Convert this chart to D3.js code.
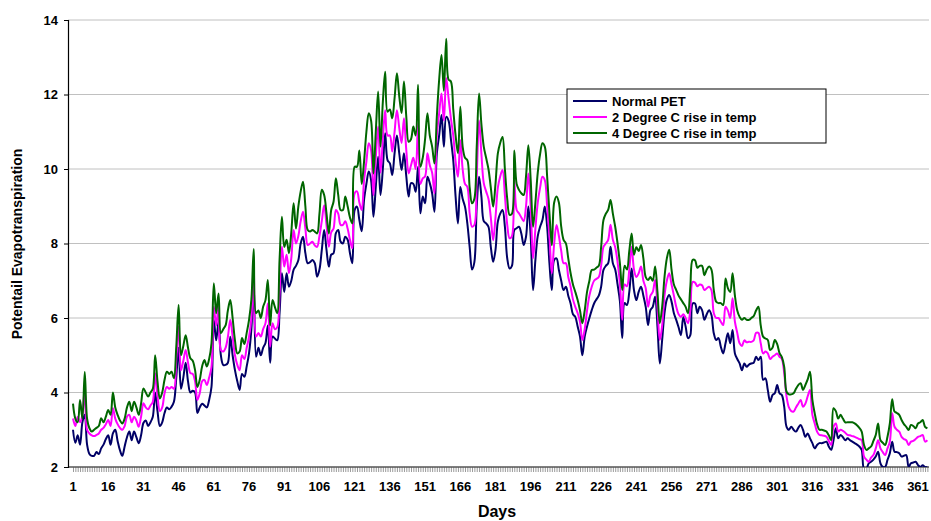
<!DOCTYPE html>
<html>
<head>
<meta charset="utf-8">
<script src="https://cdnjs.cloudflare.com/ajax/libs/d3/7.8.5/d3.min.js"></script>
<style>
  body { margin: 0; background: #fff; }
  svg text { font-family: Arial, "Liberation Sans", sans-serif; font-weight: bold; }
</style>
</head>
<body>
<svg id="chart" width="931" height="521"></svg>
<script>
// daily potential evapotranspiration
let normalPET = [
  3.0, 2.65, 2.85, 2.6, 3.2, 3.4, 2.6, 2.35, 2.3, 2.3,
  2.4, 2.35, 2.5, 2.6, 2.75, 2.85, 2.6, 2.9, 3.0, 2.7,
  2.45, 2.3, 2.55, 2.8, 2.95, 2.72, 2.95, 2.8, 2.64, 2.85,
  3.18, 3.25, 3.1, 3.2, 3.35, 4.0, 3.5, 3.1, 3.2, 3.45,
  3.6, 3.55, 3.62, 3.75, 4.4, 5.2, 4.1, 4.4, 4.8, 4.3,
  4.0, 4.05, 4.0, 3.45, 3.6, 3.7, 3.65, 3.6, 3.8, 4.15,
  5.95, 5.4, 5.9, 5.0, 4.74, 4.74, 4.8, 5.5, 5.0, 4.6,
  4.3, 4.07, 4.5, 4.42, 4.7, 5.06, 5.7, 6.9, 4.96, 5.2,
  5.0, 5.2, 5.33, 5.8, 4.8, 5.5, 5.45, 5.4, 6.13, 7.2,
  6.7, 7.2, 6.84, 7.0, 7.3, 7.4, 7.55, 8.0, 8.18, 7.74,
  7.47, 7.5, 7.56, 7.47, 7.11, 7.3, 7.83, 8.36, 7.83, 7.38,
  7.7, 7.74, 8.28, 8.36, 8.05, 8.0, 8.18, 8.1, 7.74, 7.47,
  8.9, 8.99, 8.63, 8.33, 9.17, 9.6, 9.93, 9.7, 8.72, 9.52,
  10.33, 9.3, 10.0, 10.96, 10.24, 10.15, 9.84, 10.42, 10.9, 10.42,
  9.97, 10.42, 9.8, 9.26, 9.62, 9.6, 9.39, 10.06, 8.81, 9.26,
  9.08, 9.79, 9.62, 9.35, 8.85, 10.42, 10.9, 11.45, 10.6, 11.4,
  11.3, 10.8, 10.24, 9.26, 8.54, 9.52, 9.2, 8.99, 8.54, 7.9,
  7.3, 7.5, 8.99, 9.79, 9.26, 8.6, 8.54, 8.45, 7.91, 7.51,
  7.83, 8.59, 8.8, 8.9, 8.45, 7.6, 7.33, 7.4, 8.36, 8.41,
  8.45, 8.27, 7.96, 8.18, 8.99, 8.18, 6.75, 7.56, 8.2, 8.45,
  8.63, 8.99, 8.45, 7.45, 6.75, 7.56, 7.6, 7.29, 7.0, 6.75,
  6.84, 6.6, 6.39, 6.1, 6.03, 5.77, 5.5, 5.0, 5.5, 5.77,
  6.0, 6.21, 6.39, 6.5, 6.6, 6.84, 7.29, 7.4, 7.47, 7.91,
  7.47, 7.3, 6.9, 6.45, 5.46, 6.4, 6.35, 6.7, 7.33, 6.75,
  6.48, 6.7, 6.84, 6.6, 6.3, 5.81, 6.21, 6.3, 6.57, 5.77,
  4.78, 5.41, 6.13, 6.5, 6.62, 6.44, 6.13, 5.95, 5.75, 5.54,
  6.03, 5.77, 5.46, 5.54, 6.39, 6.39, 6.13, 6.3, 6.21, 5.95,
  6.1, 6.21, 6.08, 5.59, 5.41, 5.46, 5.23, 5.05, 5.32, 5.59,
  5.32, 5.68, 5.05, 4.9, 4.78, 4.6, 4.78, 4.69, 4.75, 4.78,
  4.8, 4.96, 4.87, 4.96, 4.34, 4.38, 4.07, 3.75, 3.93, 3.98,
  4.2, 3.98, 3.93, 3.62, 3.08, 3.0, 3.08, 3.0, 2.95, 3.05,
  3.13, 3.0, 2.81, 2.9, 2.77, 2.64, 2.5, 2.59, 2.64, 2.64,
  2.66, 2.68, 2.55, 2.46, 2.72, 3.04, 2.77, 2.86, 2.8, 2.72,
  2.77, 2.72, 2.68, 2.64, 2.6, 2.55, 2.46, 1.95, 1.95, 2.1,
  2.14, 2.2, 2.28, 2.41, 2.1, 2.0, 2.0, 2.19, 2.37, 2.68,
  2.41, 2.4, 2.37, 2.28, 2.3, 2.32, 2.0, 2.1, 2.12, 2.14,
  2.05, 2.0, 2.05, 2.0, 2.0
];

let rise2C = [
  3.3, 3.1, 3.35, 3.2, 3.4, 4.1, 3.0, 2.9, 2.85, 2.83,
  2.86, 2.9, 3.0, 3.05, 3.15, 3.26, 3.1, 3.58, 3.3, 3.15,
  3.05, 3.0, 3.1, 3.35, 3.4, 3.2, 3.35, 3.25, 3.08, 3.35,
  3.71, 3.6, 3.55, 3.65, 3.75, 4.52, 3.9, 3.5, 3.6, 3.98,
  4.15, 4.1, 4.15, 4.1, 4.9, 5.77, 4.6, 4.85, 5.14, 4.8,
  4.52, 4.5, 4.3, 3.8, 3.98, 4.3, 4.34, 4.2, 4.4, 4.69,
  6.3, 5.8, 6.3, 5.14, 5.1, 5.2, 5.5, 5.95, 5.5, 5.0,
  4.74, 4.6, 5.0, 4.9, 5.2, 5.5, 6.0, 7.47, 5.5, 5.6,
  5.5, 5.7, 5.86, 6.39, 5.23, 5.86, 5.7, 5.75, 6.66, 7.91,
  7.38, 7.7, 7.2, 7.6, 8.36, 8.0, 8.2, 8.6, 8.85, 8.4,
  7.96, 8.0, 8.05, 7.95, 7.91, 8.2, 8.6, 9.03, 8.5, 7.91,
  8.3, 8.4, 8.9, 8.8, 8.5, 8.5, 8.6, 8.4, 8.1, 7.87,
  9.35, 9.4, 9.1, 8.9, 9.7, 10.2, 10.69, 10.5, 9.3, 10.3,
  11.14, 9.9, 10.8, 11.58, 10.9, 10.9, 10.47, 11.0, 11.58, 11.1,
  10.7, 11.36, 10.5, 9.88, 10.1, 10.3, 10.0, 11.23, 9.6, 9.75,
  9.8, 10.42, 10.1, 9.9, 9.35, 10.9, 11.5, 12.03, 11.3, 12.44,
  11.9, 11.36, 10.9, 10.2, 9.79, 10.78, 10.0, 9.6, 9.52, 8.8,
  8.45, 8.5, 9.79, 11.3, 10.4, 9.62, 9.4, 9.2, 8.7, 8.09,
  8.7, 9.5, 9.8, 9.97, 9.3, 8.5, 8.14, 8.2, 9.7, 8.9,
  8.81, 8.7, 8.6, 9.0, 9.88, 9.0, 7.6, 8.4, 9.1, 9.5,
  9.79, 9.7, 9.0, 8.18, 7.2, 8.0, 8.5, 8.2, 7.8, 7.47,
  7.47, 7.1, 6.84, 6.5, 6.3, 6.13, 5.9, 5.41, 5.7, 6.2,
  6.6, 6.84, 7.0, 7.05, 7.1, 7.4, 7.91, 8.0, 8.1, 8.5,
  8.1, 7.9, 7.5, 6.93, 5.95, 6.9, 6.85, 7.3, 7.91, 7.3,
  7.1, 7.2, 7.38, 7.0, 6.8, 6.3, 6.6, 6.7, 7.02, 6.3,
  5.41, 5.8, 6.6, 7.0, 7.2, 6.9, 6.6, 6.3, 6.1, 6.03,
  6.1, 6.0, 5.86, 6.21, 6.97, 6.95, 6.85, 6.9, 6.88, 6.75,
  6.8, 6.84, 6.75, 6.13, 6.0, 6.0, 5.9, 5.81, 6.3, 6.2,
  6.0, 6.53, 5.9, 5.6, 5.32, 5.25, 5.4, 5.35, 5.36, 5.36,
  5.4, 5.6, 5.6, 5.32, 5.05, 5.1, 5.05, 4.9, 4.96, 5.0,
  5.05, 4.96, 4.9, 4.52, 3.89, 3.6, 3.5, 3.49, 3.6, 3.7,
  3.8, 3.62, 3.7, 3.9, 4.07, 3.4, 3.17, 2.95, 2.86, 2.85,
  2.84, 2.81, 2.7, 2.59, 3.08, 3.17, 2.95, 3.0, 2.97, 2.92,
  2.86, 2.85, 2.83, 2.81, 2.78, 2.75, 2.72, 2.28, 2.2, 2.14,
  2.25, 2.32, 2.5, 2.72, 2.5, 2.4, 2.32, 2.5, 2.68, 3.44,
  3.08, 3.0, 2.95, 2.81, 2.75, 2.72, 2.59, 2.68, 2.7, 2.75,
  2.81, 2.83, 2.86, 2.68, 2.72
];

let rise4C = [
  3.7, 3.3, 3.2, 3.8, 3.3, 4.55, 3.3, 3.04, 2.95, 3.0,
  3.05, 3.1, 3.31, 3.2, 3.35, 3.53, 3.4, 4.0, 3.6, 3.4,
  3.25, 3.17, 3.3, 3.6, 3.75, 3.5, 3.75, 3.6, 3.4, 3.7,
  4.11, 4.0, 3.89, 4.0, 4.1, 5.0, 4.3, 3.84, 4.0, 4.34,
  4.56, 4.5, 4.56, 4.38, 5.23, 6.35, 5.0, 5.25, 5.54, 5.2,
  4.92, 4.85, 4.6, 4.15, 4.34, 4.7, 4.87, 4.7, 4.9, 5.32,
  6.93, 6.13, 6.66, 5.59, 5.7, 5.8, 6.21, 6.48, 6.0, 5.4,
  5.05, 5.1, 5.46, 5.3, 5.6, 5.95, 6.5, 7.85, 6.13, 6.2,
  6.0, 6.3, 6.48, 7.02, 5.8, 6.48, 6.3, 6.13, 7.56, 8.72,
  7.91, 8.1, 7.74, 8.3, 9.08, 8.4, 8.99, 9.4, 9.66, 9.0,
  8.36, 8.32, 8.36, 8.32, 8.27, 8.8, 9.44, 9.3, 8.81, 8.27,
  8.9, 9.12, 9.75, 9.3, 8.9, 8.9, 9.26, 9.0, 8.7, 8.54,
  10.06, 10.06, 10.5, 9.6, 10.2, 11.0, 11.5, 11.3, 9.88, 11.0,
  12.08, 10.6, 11.8, 12.61, 11.54, 11.6, 11.36, 11.9, 12.57, 11.95,
  11.5, 12.35, 11.4, 10.73, 10.8, 11.14, 10.9, 12.26, 10.06, 10.3,
  10.8, 11.5, 10.9, 10.6, 10.15, 11.4, 12.4, 13.06, 12.1, 13.5,
  12.4, 12.35, 11.6, 10.9, 10.42, 11.67, 10.6, 10.3, 10.24, 9.5,
  9.08, 9.2, 10.6, 12.03, 11.2, 10.6, 10.3, 10.0, 9.5, 8.99,
  9.6, 10.42, 10.7, 10.86, 10.0, 9.2, 8.77, 8.8, 10.5, 9.6,
  9.44, 9.35, 9.3, 9.8, 10.64, 9.7, 8.45, 9.1, 9.9, 10.4,
  10.69, 10.6, 9.8, 8.8, 7.95, 9.1, 9.26, 9.1, 8.45, 8.1,
  8.0, 7.6, 7.2, 6.9, 6.7, 6.48, 6.2, 5.86, 6.2, 6.7,
  7.0, 7.29, 7.3, 7.35, 7.4, 7.9, 8.63, 8.8, 8.9, 9.17,
  8.8, 8.45, 8.0, 7.47, 6.75, 7.4, 7.3, 7.8, 8.27, 7.7,
  7.9, 7.8, 7.96, 7.6, 7.1, 7.02, 7.1, 7.0, 7.38, 6.7,
  5.86, 6.3, 7.1, 7.6, 7.83, 7.3, 6.9, 6.75, 6.6, 6.5,
  6.4, 6.3, 6.13, 6.84, 7.56, 7.55, 7.35, 7.4, 7.4, 7.15,
  7.3, 7.38, 7.3, 6.75, 6.44, 6.4, 6.4, 6.35, 7.06, 6.8,
  6.7, 7.2, 6.6, 6.2, 6.03, 5.95, 6.0, 5.95, 5.95, 6.0,
  6.05, 6.2, 6.3, 5.8, 5.5, 5.45, 5.41, 5.14, 5.2, 5.41,
  5.3, 5.06, 4.95, 4.69, 4.02, 3.95, 3.95, 3.98, 4.1, 4.2,
  4.25, 4.07, 4.2, 4.35, 4.56, 3.8, 3.44, 3.15, 3.0, 3.0,
  2.98, 2.95, 2.85, 2.72, 3.58, 3.5, 3.3, 3.4, 3.3, 3.2,
  3.2, 3.2, 3.2, 3.17, 3.12, 3.05, 2.95, 2.59, 2.46, 2.5,
  2.55, 2.7, 2.86, 3.17, 2.72, 2.65, 2.59, 2.81, 3.17, 3.82,
  3.49, 3.45, 3.4, 3.26, 3.15, 3.08, 2.99, 3.13, 3.1, 3.04,
  3.17, 3.2, 3.26, 3.08, 3.04
];

let days = d3.range(1, normalPET.length + 1);
let dayLabels = [1, 16, 31, 46, 61, 76, 91, 106, 121, 136, 151, 166, 181, 196, 211, 226, 241, 256, 271, 286, 301, 316, 331, 346, 361];
let yTicks = [2, 4, 6, 8, 10, 12, 14];

let seriesNames = ['Normal PET', '2 Degree C rise in temp', '4 Degree C rise in temp'];
let seriesColors = ['#000066', '#ff00ff', '#006600'];
let seriesData = [normalPET, rise2C, rise4C];

let svg = d3.select('#chart');

let plotLeft = 68;
let plotRight = 929;
let plotTop = 20;
let plotBottom = 467;

// day 1 sits at x=73 and day 361 at x=918 in the picture
let x = d3.scaleLinear()
  .domain([1, 361])
  .range([73, 918]);

let y = d3.scaleLinear()
  .domain([2, 14])
  .range([plotBottom, plotTop]);

svg.append('defs')
  .append('clipPath')
  .attr('id', 'plotClip')
  .append('rect')
  .attr('x', plotLeft)
  .attr('y', plotTop - 2)
  .attr('width', plotRight - plotLeft)
  .attr('height', plotBottom - plotTop + 2);

// horizontal gridlines
svg.append('g')
  .selectAll('line')
  .data(yTicks.slice(1))
  .enter()
  .append('line')
  .attr('x1', plotLeft)
  .attr('x2', plotRight)
  .attr('y1', d => y(d))
  .attr('y2', d => y(d))
  .attr('stroke', '#c0c0c0')
  .attr('stroke-width', 1);

// y axis
let yAxis = d3.axisLeft(y)
  .tickValues(yTicks)
  .tickSize(4)
  .tickPadding(6);

let yAxisG = svg.append('g')
  .attr('transform', 'translate(' + plotLeft + ', 0)')
  .call(yAxis);
yAxisG.select('.domain').attr('stroke', '#000').attr('stroke-width', 1.2);
yAxisG.selectAll('text')
  .style('font-size', '13px')
  .attr('fill', '#000');

// x axis: one tick per day, labels every 15 days
let xAxis = d3.axisBottom(x)
  .tickValues(days)
  .tickSize(5)
  .tickFormat('');

let xAxisG = svg.append('g')
  .attr('transform', 'translate(0, ' + plotBottom + ')')
  .call(xAxis);
xAxisG.select('.domain')
  .attr('d', 'M' + plotLeft + ',0H' + plotRight)
  .attr('stroke', '#000')
  .attr('stroke-width', 1.2);
xAxisG.selectAll('.tick line').attr('stroke', '#555').attr('stroke-width', 0.6);

svg.append('g')
  .selectAll('text')
  .data(dayLabels)
  .enter()
  .append('text')
  .attr('x', d => x(d))
  .attr('y', plotBottom + 24)
  .attr('text-anchor', 'middle')
  .style('font-size', '13px')
  .text(d => d);

// smoothed lines, like the spreadsheet's smoothed series
let line = d3.line()
  .x((d, i) => x(days[i]))
  .y(d => y(d))
  .curve(d3.curveCatmullRom.alpha(0.5));

let plot = svg.append('g').attr('clip-path', 'url(#plotClip)');

seriesData.forEach(function(values, idx) {
  plot.append('path')
    .datum(values)
    .attr('fill', 'none')
    .attr('stroke', seriesColors[idx])
    .attr('stroke-width', 2)
    .attr('stroke-linejoin', 'round')
    .attr('d', line);
});

// axis titles
svg.append('text')
  .attr('x', 497)
  .attr('y', 517)
  .attr('text-anchor', 'middle')
  .style('font-size', '16px')
  .text('Days');

svg.append('text')
  .attr('transform', 'translate(22, 244) rotate(-90)')
  .attr('text-anchor', 'middle')
  .style('font-size', '14px')
  .text('Potentail Evapotranspiration');

// legend
let legend = svg.append('g').attr('transform', 'translate(567, 89)');
legend.append('rect')
  .attr('width', 259)
  .attr('height', 54)
  .attr('fill', '#fff')
  .attr('stroke', '#000')
  .attr('stroke-width', 1);

seriesNames.forEach(function(name, idx) {
  let ly = 12 + idx * 16;
  legend.append('line')
    .attr('x1', 6)
    .attr('x2', 40)
    .attr('y1', ly)
    .attr('y2', ly)
    .attr('stroke', seriesColors[idx])
    .attr('stroke-width', 2);
  legend.append('text')
    .attr('x', 45)
    .attr('y', ly + 5)
    .style('font-size', '13px')
    .text(name);
});
</script>
</body>
</html>
